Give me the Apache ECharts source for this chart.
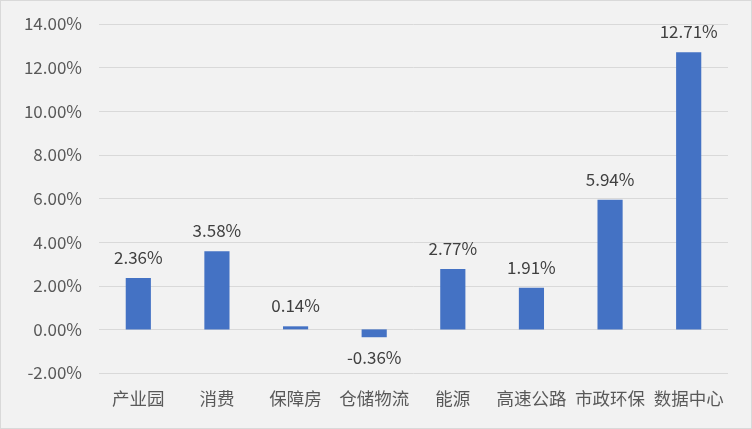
<!DOCTYPE html>
<html><head><meta charset="utf-8">
<script src="https://cdn.jsdelivr.net/npm/echarts@6/dist/echarts.min.js"></script>
<style>
html,body{margin:0;padding:0;background:#f2f2f2;}
#c{width:750px;height:427px;border:1px solid #d9d9d9;}
</style></head><body>
<div id="c"></div>
<script>
const categories = ['产业园','消费','保障房','仓储物流','能源','高速公路','市政环保','数据中心'];
const values = [2.36, 3.58, 0.14, -0.36, 2.77, 1.91, 5.94, 12.71];
const yMin = -2, yMax = 14, yStep = 2;

const chart = echarts.init(document.getElementById('c'));
const font = '"Noto Sans CJK SC","Microsoft YaHei",sans-serif';
chart.setOption({
  backgroundColor: '#f2f2f2',
  animation: false,
  grid: {left: 98, right: 23, top: 23, bottom: 55},
  xAxis: {
    type: 'category', data: categories,
    axisLine: {show: false}, axisTick: {show: false},
    axisLabel: {color: '#595959', fontSize: 17.5, fontFamily: font, margin: 17, interval: 0}
  },
  yAxis: {
    type: 'value', min: yMin, max: yMax, interval: yStep,
    axisLabel: {color: '#595959', fontSize: 17, fontFamily: font, margin: 17,
      formatter: v => v.toFixed(2) + '%'},
    splitLine: {lineStyle: {color: '#d9d9d9', width: 1}},
    axisLine: {show: false}, axisTick: {show: false}
  },
  series: [{
    type: 'bar', barWidth: '32%',
    itemStyle: {color: '#4472c4'},
    data: values.map(v => ({value: v, label: {position: v < 0 ? 'bottom' : 'top'}})),
    label: {show: true, distance: 12, color: '#404040', fontSize: 17, fontFamily: font,
      formatter: p => p.value.toFixed(2) + '%'}
  }]
});
</script>
</body></html>
